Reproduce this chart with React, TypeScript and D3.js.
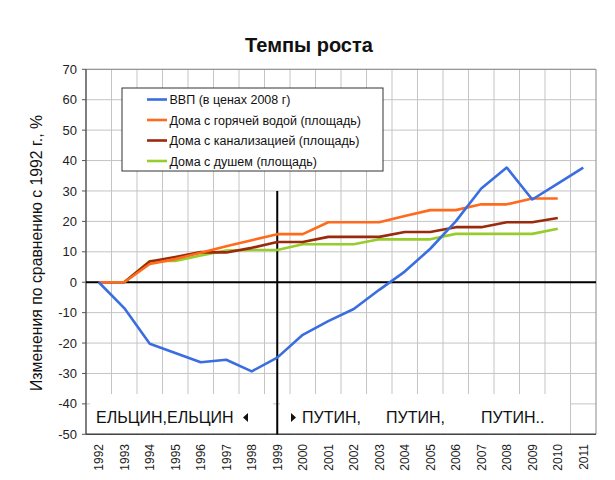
import React from 'react';
import * as d3 from 'd3';

// Годы и ряды (в % к 1992 г.)
const years = ['1992', '1993', '1994', '1995', '1996', '1997', '1998', '1999', '2000', '2001',
  '2002', '2003', '2004', '2005', '2006', '2007', '2008', '2009', '2010', '2011'];

const gdp = [0, -8.5, -20.2, -23.3, -26.3, -25.5, -29.3, -24.8, -17.3, -12.8,
  -8.8, -2.5, 3.5, 11, 20, 30.8, 37.7, 27.2, 32.4, 37.7];
const hotWater = [0, 0, 6, 7.6, 9.7, 11.8, 13.8, 15.8, 15.8, 19.7,
  19.7, 19.7, 21.8, 23.7, 23.7, 25.6, 25.6, 27.5, 27.5, null];
const sewerage = [0, 0, 6.8, 8.3, 9.9, 9.8, 11.3, 13.2, 13.2, 14.9,
  14.9, 14.9, 16.5, 16.5, 18.1, 18.1, 19.7, 19.7, 21.1, null];
const shower = [null, 0, 7, 7, 8.8, 10.4, 10.6, 10.6, 12.5, 12.5,
  12.5, 14.1, 14.1, 14.1, 15.9, 15.9, 15.9, 15.9, 17.6, null];

const seriesNames = ['ВВП (в ценах 2008 г)', 'Дома с горячей водой (площадь)',
  'Дома с канализацией (площадь)', 'Дома с душем (площадь)'];
const seriesColors = ['#3a6ee0', '#ff6a1c', '#9a2a0c', '#96cc2c'];

const yTicks = [70, 60, 50, 40, 30, 20, 10, 0, -10, -20, -30, -40, -50];

const FONT = 'Liberation Sans, Arial, sans-serif';

const App: React.FC = () => {
  const width = 615;
  const height = 480;
  const left = 86, right = 596, top = 69.3, bottom = 434.3;

  const x = d3.scaleBand<string>().domain(years).range([left, right]).padding(0);
  const y = d3.scaleLinear().domain([-50, 70]).range([bottom, top]);
  const cx = (yr: string) => (x(yr) ?? 0) + x.bandwidth() / 2;

  const line = d3.line<number | null>()
    .defined(d => d != null)
    .x((_, i) => cx(years[i]))
    .y(d => y(d as number));

  const allSeries = [gdp, hotWater, sewerage, shower];
  const legendRows = [99.5, 120, 140.5, 161];

  return (
    <svg width={width} height={height} style={{ position: 'absolute', left: 0, top: 0, background: '#fff' }}
      fontFamily={FONT}>
      <rect x={0} y={0} width={width} height={height} fill="#fff" />

      {/* title */}
      <text x={309} y={52} textAnchor="middle" fontSize={20} fontWeight="bold" fill="#111">Темпы роста</text>

      {/* grid */}
      {yTicks.map(t => (
        <line key={'h' + t} x1={left} x2={right} y1={y(t)} y2={y(t)} stroke="#c4c4c4" strokeWidth={1} />
      ))}
      {years.slice(1).map(yr => (
        <line key={'v' + yr} x1={x(yr)} x2={x(yr)} y1={top} y2={bottom} stroke="#c4c4c4" strokeWidth={1} />
      ))}

      {/* plot border */}
      <line x1={left} x2={right} y1={top} y2={top} stroke="#8a8a8a" />
      <line x1={right} x2={right} y1={top} y2={bottom} stroke="#8a8a8a" />

      {/* annotation boxes */}
      <rect x={90} y={394} width={183} height={bottom - 394 - 1} fill="#fff" />
      <rect x={280} y={394} width={290} height={bottom - 394 - 1} fill="#fff" />

      {/* axes */}
      <line x1={left} x2={left} y1={top} y2={bottom} stroke="#555" strokeWidth={1.5} />
      <line x1={left} x2={right} y1={bottom} y2={bottom} stroke="#444" strokeWidth={1.5} />
      {yTicks.map(t => (
        <g key={'t' + t}>
          <line x1={left - 4} x2={left} y1={y(t)} y2={y(t)} stroke="#555" />
          <text x={77} y={y(t)} dy="0.35em" textAnchor="end" fontSize={13} fill="#222">{t}</text>
        </g>
      ))}
      {years.map(yr => (
        <text key={'x' + yr} transform={`translate(${cx(yr) + 4.3},${444}) rotate(-90)`}
          textAnchor="end" fontSize={12} fill="#222">{yr}</text>
      ))}

      {/* y title */}
      <text transform={`translate(41.5,253) rotate(-90)`} textAnchor="middle" fontSize={15.8} fill="#111">
        Изменения по сравнению с 1992 г., %
      </text>

      {/* zero line and 1999 divider */}
      <line x1={left} x2={right} y1={y(0)} y2={y(0)} stroke="#000" strokeWidth={2} />
      <line x1={cx('1999')} x2={cx('1999')} y1={y(30)} y2={bottom} stroke="#000" strokeWidth={2} />

      {/* series */}
      {allSeries.map((s, i) => (
        <path key={'s' + i} d={line(s) ?? ''} fill="none" stroke={seriesColors[i]} strokeWidth={2.6}
          strokeLinejoin="round" />
      )).reverse()}

      {/* annotations */}
      <text x={96} y={422.5} fontSize={16} fill="#111">ЕЛЬЦИН,ЕЛЬЦИН</text>
      <path d="M243,417.5 L248,413 L248,422 Z" fill="#111" />
      <path d="M291,413 L296,417.5 L291,422 Z" fill="#111" />
      <text x={302} y={422.5} fontSize={16} fill="#111">ПУТИН,</text>
      <text x={386} y={422.5} fontSize={16} fill="#111">ПУТИН,</text>
      <text x={481} y={422.5} fontSize={16} fill="#111">ПУТИН..</text>

      {/* legend */}
      <rect x={122} y={88} width={261} height={83} fill="#fff" stroke="#333" strokeWidth={1} />
      {seriesNames.map((n, i) => (
        <g key={'l' + i}>
          <line x1={147} x2={167} y1={legendRows[i]} y2={legendRows[i]} stroke={seriesColors[i]} strokeWidth={2.6} />
          <text x={169.5} y={legendRows[i]} dy="0.36em" fontSize={12.5} fill="#111">{n}</text>
        </g>
      ))}
    </svg>
  );
};

export default App;
